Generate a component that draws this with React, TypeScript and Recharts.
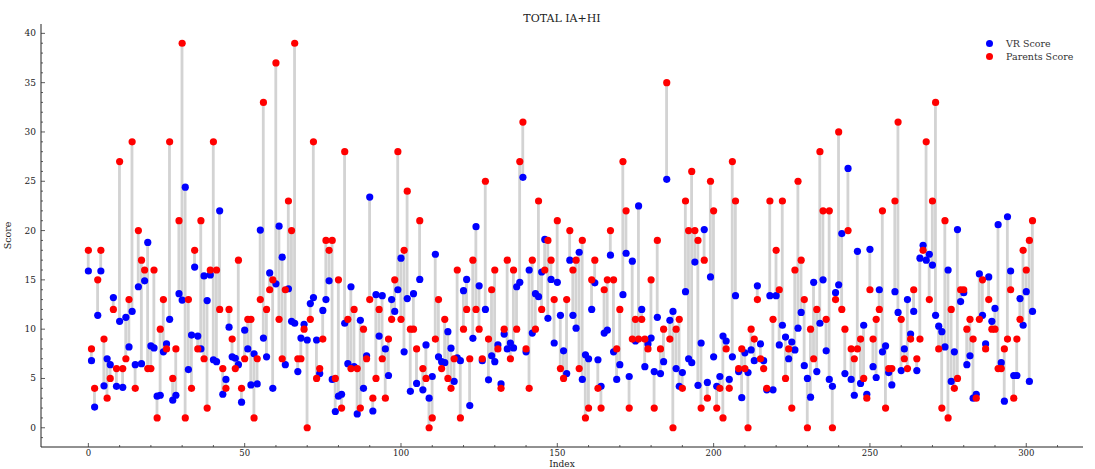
import { ComposedChart, Bar, Scatter, XAxis, YAxis, Label } from 'recharts';

// VR scores, index 0..302
const VR_SCORE = [
  15.9, 6.8, 2.1, 11.4, 15.9, 4.25, 7.0, 6.4, 13.2, 4.2, 10.8, 4.1, 11.2, 8.2, 11.8, 6.4, 14.3, 6.5, 14.9, 18.8,
  8.3, 8.1, 3.2, 3.3, 7.7, 8.5, 11.0, 2.8, 3.3, 13.6, 12.95, 24.4, 5.9, 9.4, 16.3, 9.3, 8.0, 15.4, 12.9, 15.5,
  6.9, 6.7, 22.0, 3.4, 4.9, 10.2, 7.2, 7.05, 6.4, 2.6, 9.9, 8.0, 4.35, 7.5, 4.45, 20.05, 9.1, 7.2, 15.7, 4.0,
  14.6, 20.45, 17.3, 6.4, 14.1, 10.8, 10.6, 5.7, 9.1, 10.5, 8.9, 12.6, 13.2, 8.9, 5.5, 11.9, 13.0, 14.9, 4.9, 1.65,
  3.2, 3.4, 10.6, 6.5, 14.3, 6.2, 1.4, 10.9, 4.0, 7.3, 23.4, 1.7, 13.5, 9.3, 13.4, 8.0, 5.3, 13.0, 11.8, 14.0,
  17.2, 7.7, 13.1, 3.7, 13.6, 4.5, 15.05, 3.85, 8.4, 3.0, 5.2, 17.6, 7.2, 6.7, 6.6, 9.75, 8.07, 4.7, 7.1, 6.8,
  13.9, 15.05, 2.25, 9.07, 20.4, 14.4, 6.8, 12.0, 4.86, 7.3, 6.7, 8.4, 4.45, 9.5, 8.0, 8.6, 8.1, 14.3, 14.75, 25.4,
  7.7, 16.0, 9.6, 13.6, 13.3, 15.8, 19.1, 11.1, 15.05, 8.6, 14.75, 11.4, 7.8, 5.5, 17.0, 11.4, 10.1, 17.8, 4.9, 7.4,
  7.0, 12.0, 14.7, 6.9, 4.2, 9.6, 9.9, 17.5, 7.7, 4.9, 6.4, 13.5, 17.7, 5.2, 16.9, 8.8, 22.5, 12.0, 6.2, 8.5,
  9.1, 5.7, 11.2, 5.5, 6.7, 25.2, 10.9, 11.8, 6.0, 4.2, 5.6, 13.8, 7.0, 6.6, 16.8, 4.3, 8.6, 20.1, 4.6, 15.3,
  7.2, 4.2, 5.2, 9.3, 8.8, 4.9, 7.2, 13.4, 5.7, 3.05, 7.6, 5.6, 7.9, 6.8, 14.4, 8.5, 6.8, 3.85, 13.4, 3.85,
  13.4, 8.4, 10.4, 9.2, 7.0, 8.7, 7.9, 10.1, 11.7, 6.3, 5.0, 3.1, 14.75, 5.7, 10.6, 15.0, 7.8, 4.9, 4.2, 13.7,
  14.5, 19.7, 5.5, 26.3, 4.9, 3.3, 17.9, 4.5, 10.4, 3.4, 18.1, 6.2, 5.1, 14.0, 7.7, 8.3, 5.6, 4.35, 13.8, 11.7,
  5.8, 8.0, 13.0, 9.5, 11.8, 5.8, 17.2, 18.5, 17.0, 17.6, 16.5, 11.4, 10.3, 9.75, 8.2, 16.0, 4.7, 7.7, 20.1, 12.8,
  13.7, 6.4, 7.3, 3.0, 3.4, 15.6, 11.4, 8.5, 15.3, 10.8, 12.1, 20.6, 6.6, 2.7, 21.4, 15.9, 5.3, 5.3, 13.1, 10.4,
  13.8, 4.7, 11.8,
];

// Parents scores, same indices
const PARENTS_SCORE = [
  18, 8, 4, 15, 18, 9, 3, 5, 12, 6, 27, 6, 7, 13, 29, 4, 20, 17, 16, 6,
  6, 16, 1, 10, 13, 8, 29, 5, 8, 21, 39, 1, 13, 4, 18, 8, 21, 7, 2, 16,
  29, 16, 12, 6, 4, 12, 9, 6, 17, 4, 7, 11, 11, 1, 7, 13, 33, 12, 14, 15,
  37, 11, 7, 14, 23, 20, 39, 7, 7, 10, 0, 11, 29, 5, 6, 9, 19, 18, 19, 5,
  15, 2, 28, 11, 6, 12, 6, 2, 10, 7, 13, 3, 5, 12, 7, 3, 9, 11, 15, 28,
  11, 18, 24, 10, 10, 8, 21, 6, 5, 0, 1, 9, 13, 6, 11, 5, 4, 7, 16, 1,
  10, 12, 7, 17, 12, 10, 7, 25, 9, 14, 16, 8, 4, 10, 17, 7, 16, 10, 27, 31,
  8, 4, 17, 10, 23, 12, 16, 19, 17, 13, 21, 6, 5, 13, 20, 16, 17, 6, 19, 1,
  2, 15, 17, 4, 2, 14, 15, 20, 15, 8, 12, 27, 22, 2, 9, 11, 9, 11, 9, 8,
  15, 2, 19, 8, 10, 35, 9, 0, 10, 11, 4, 23, 20, 26, 20, 19, 2, 17, 3, 25,
  22, 2, 4, 1, 8, 4, 27, 23, 6, 8, 6, 0, 10, 9, 13, 7, 6, 4, 23, 11,
  18, 14, 23, 5, 8, 2, 16, 25, 17, 13, 0, 10, 7, 12, 28, 22, 11, 22, 0, 13,
  30, 12, 10, 20, 8, 7, 8, 9, 5, 3, 14, 9, 11, 12, 22, 2, 6, 6, 23, 31,
  11, 7, 6, 9, 14, 7, 9, 18, 29, 13, 23, 33, 8, 2, 21, 1, 12, 4, 5, 14,
  14, 10, 11, 9, 3, 11, 15, 8, 13, 10, 10, 6, 6, 8, 9, 14, 3, 9, 11, 18,
  16, 19, 21,
];

const X_TICKS = [0, 10, 20, 30, 40, 50, 60, 70, 80, 90, 100, 110, 120, 130, 140, 150, 160, 170, 180, 190, 200, 210, 220, 230, 240, 250, 260, 270, 280, 290, 300, 310];
const X_LABELS = [0, 50, 100, 150, 200, 250, 300];
const Y_TICKS = [-1, 0, 1, 2, 3, 4, 5, 6, 7, 8, 9, 10, 11, 12, 13, 14, 15, 16, 17, 18, 19, 20, 21, 22, 23, 24, 25, 26, 27, 28, 29, 30, 31, 32, 33, 34, 35, 36, 37, 38, 39, 40];
const Y_LABELS = [0, 5, 10, 15, 20, 25, 30, 35, 40];

const FONT = '"DejaVu Serif", serif';
const TICK_COLOR = '#333';

const data = VR_SCORE.map((vr, i) => ({
  index: i,
  vr,
  parents: PARENTS_SCORE[i],
  range: [Math.min(vr, PARENTS_SCORE[i]), Math.max(vr, PARENTS_SCORE[i])],
}));

// tick drawn by hand so major/minor get different lengths, pointing inward
const makeTick = (side: 'bottom' | 'top' | 'left' | 'right') => (props: any) => {
  const { x, y, payload } = props;
  const v = payload.value;
  const major = side === 'left' || side === 'right' ? Y_LABELS.includes(v) : X_LABELS.includes(v);
  const len = major ? 4 : 2;
  const showLabel = major && (side === 'bottom' || side === 'left');
  if (side === 'bottom') {
    return (
      <g>
        <line x1={x} x2={x} y1={y} y2={y - len} stroke={TICK_COLOR} strokeWidth={0.8} />
        {showLabel && (
          <text x={x} y={y + 9} textAnchor="middle" fontSize={8.5} fontFamily={FONT} fill="#222">{v}</text>
        )}
      </g>
    );
  }
  if (side === 'top') {
    return <line x1={x} x2={x} y1={y} y2={y + len} stroke={TICK_COLOR} strokeWidth={0.8} />;
  }
  if (side === 'left') {
    return (
      <g>
        <line x1={x} x2={x + len} y1={y} y2={y} stroke={TICK_COLOR} strokeWidth={0.8} />
        {showLabel && (
          <text x={x - 5} y={y + 3} textAnchor="end" fontSize={9} fontFamily={FONT} fill="#222">{v}</text>
        )}
      </g>
    );
  }
  return <line x1={x} x2={x - len} y1={y} y2={y} stroke={TICK_COLOR} strokeWidth={0.8} />;
};

const Dot = (color: string) => (props: any) => (
  <circle cx={props.cx} cy={props.cy} r={3.6} fill={color} />
);

export default function App() {
  return (
    <div style={{ position: 'absolute', left: 0, top: 0, width: 1095, height: 469, background: '#fff' }}>
      <div
        style={{
          position: 'absolute', top: 12, left: 41, width: 1042, textAlign: 'center',
          fontFamily: FONT, fontSize: 11, color: '#222',
        }}
      >
        TOTAL IA+HI
      </div>
      <div
        style={{
          position: 'absolute', top: 37, left: 986, zIndex: 2,
          fontFamily: FONT, fontSize: 9.5, color: '#333', lineHeight: '13px',
        }}
      >
        <div style={{ display: 'flex', alignItems: 'center' }}>
          <span style={{ width: 7, height: 7, borderRadius: 4, background: '#0000ff', marginRight: 13 }} />
          VR Score
        </div>
        <div style={{ display: 'flex', alignItems: 'center' }}>
          <span style={{ width: 7, height: 7, borderRadius: 4, background: '#ff0000', marginRight: 13 }} />
          Parents Score
        </div>
      </div>
      <ComposedChart
        width={1095}
        height={469}
        data={data}
        margin={{ top: 24, right: 12, bottom: 0, left: 0 }}
      >
        <XAxis
          xAxisId="bottom"
          dataKey="index"
          type="number"
          domain={[-15.15, 318.15]}
          ticks={X_TICKS}
          allowDataOverflow
          height={22}
          tickLine={false}
          tickSize={0}
          tickMargin={0}
          interval={0}
          stroke="#222"
          tick={makeTick('bottom')}
        >
          <Label value="Index" position="insideBottom" offset={2} style={{ fontFamily: FONT, fontSize: 9, fill: '#222' }} />
        </XAxis>
        <XAxis
          xAxisId="top"
          orientation="top"
          dataKey="index"
          type="number"
          domain={[-15.15, 318.15]}
          ticks={X_TICKS}
          allowDataOverflow
          height={0}
          tickLine={false}
          tickSize={0}
          tickMargin={0}
          interval={0}
          stroke="#222"
          tick={makeTick('top')}
        />
        <YAxis
          yAxisId="left"
          type="number"
          domain={[-1.95, 40.95]}
          ticks={Y_TICKS}
          allowDataOverflow
          width={41}
          tickLine={false}
          tickSize={0}
          tickMargin={0}
          interval={0}
          stroke="#222"
          tick={makeTick('left')}
        >
          <Label value="Score" angle={-90} position="insideLeft" offset={8} style={{ fontFamily: FONT, fontSize: 9.5, fill: '#222', textAnchor: 'middle' }} />
        </YAxis>
        <YAxis
          yAxisId="right"
          orientation="right"
          type="number"
          domain={[-1.95, 40.95]}
          ticks={Y_TICKS}
          allowDataOverflow
          width={0}
          tickLine={false}
          tickSize={0}
          tickMargin={0}
          interval={0}
          stroke="#222"
          tick={makeTick('right')}
        />
        <Bar
          xAxisId="bottom"
          yAxisId="left"
          dataKey="range"
          barSize={4}
          fill="#d3d3d3"
          isAnimationActive={false}
        />
        <Scatter
          xAxisId="bottom"
          yAxisId="left"
          name="VR Score"
          dataKey="vr"
          fill="#0000ff"
          shape={Dot('#0000ff')}
          isAnimationActive={false}
        />
        <Scatter
          xAxisId="bottom"
          yAxisId="left"
          name="Parents Score"
          dataKey="parents"
          fill="#ff0000"
          shape={Dot('#ff0000')}
          isAnimationActive={false}
        />
      </ComposedChart>
    </div>
  );
}
